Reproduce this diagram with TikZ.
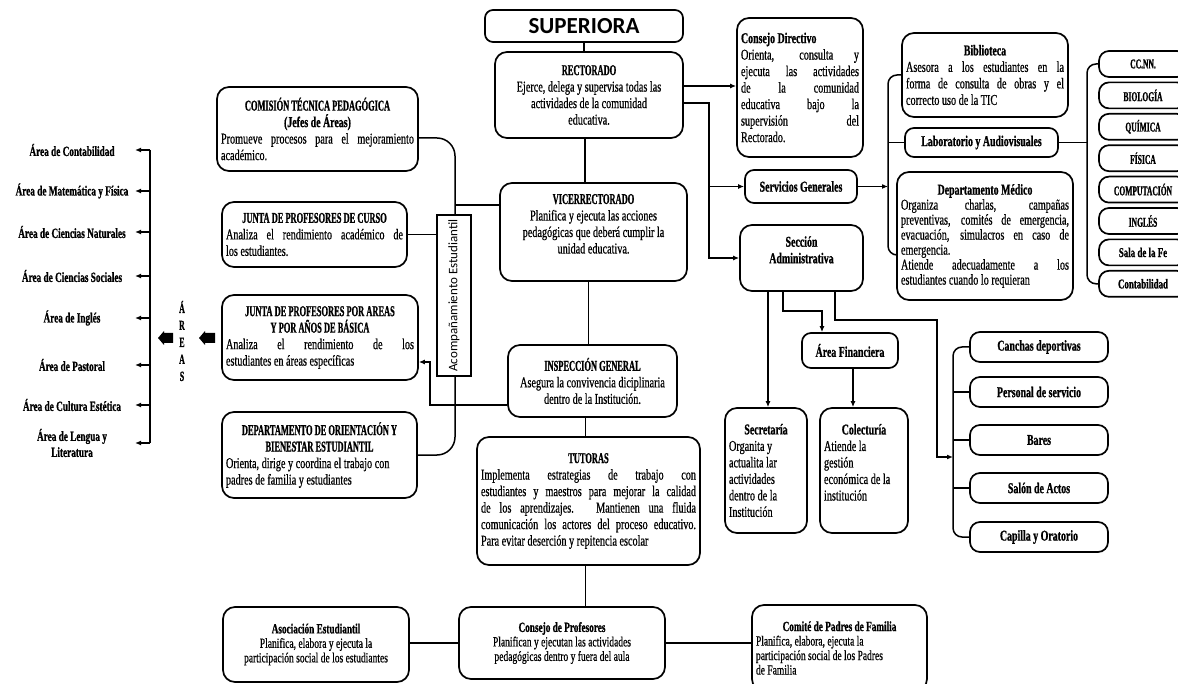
\documentclass[tikz,border=0pt]{standalone}
\usepackage{fontspec}
\setmainfont[FakeStretch=0.68,FakeBold=0.6]{Liberation Serif}
\newfontfamily\capsf[FakeStretch=0.56,FakeBold=0.9]{Liberation Serif}
\newfontfamily\midf[FakeStretch=0.66,FakeBold=0.9]{Liberation Serif}
\newfontfamily\sansf{Carlito}
\usetikzlibrary{arrows.meta}
\newcommand\Bx[2]{\vbox{\hsize=#1\relax #2}}
\newcommand\Lc[1]{\hbox to\hsize{\hss#1\hss}}
\newcommand\Lj[1]{\hbox to\hsize{#1}}
\newcommand\Ll[1]{\hbox to\hsize{#1\hss}}
\newcommand\Tc[1]{\Lc{\capsf\bfseries #1}}
\newcommand\Tm[1]{\Lc{\midf\bfseries #1}}
\tikzset{
 box/.style={draw, line width=1.7pt, rounded corners=12pt, fill=white, inner sep=4pt, font=\fontsize{15}{16.5}\selectfont},
 small/.style={font=\fontsize{14}{14.5}\selectfont},
 medf/.style={font=\fontsize{15}{15}\selectfont},
 conn/.style={line width=1.5pt},
 arr/.style={conn, -{Latex[length=6pt,width=5pt]}},
 area/.style={font=\midf\bfseries\fontsize{14}{16}\selectfont, align=center, inner sep=1pt},
 listbox/.style={box, inner sep=2pt, rounded corners=10pt, font=\fontsize{13.5}{14}\selectfont},
 rlist/.style={box, inner sep=2pt, rounded corners=10pt, font=\fontsize{15}{15}\selectfont},
}
\begin{document}
\begin{tikzpicture}[x=1pt,y=-1pt]
\useasboundingbox (0,0) rectangle (1178,684);
% ---------- centre column
\node[box, rounded corners=8pt, inner sep=0pt, minimum height=32pt] (sup) at (584,26)
  {\Bx{198pt}{\Lc{\sansf\bfseries\fontsize{23}{24}\selectfont SUPERIORA}}};
\node[box, minimum height=86pt] (rect) at (589,95)
  {\Bx{180pt}{\Tc{RECTORADO}\Lc{Ejerce, delega y supervisa todas las}\Lc{actividades de la comunidad}\Lc{educativa.}}};
\node[box, minimum height=98pt] (vice) at (593.5,232)
  {\Bx{179pt}{\Tc{VICERRECTORADO}\Lc{Planifica y ejecuta las acciones}\Lc{pedagógicas que deberá cumplir la}\Lc{unidad educativa.}\Ll{}}};
\node[box, minimum height=72pt] (insp) at (592.5,381)
  {\Bx{161pt}{\Tc{INSPECCIÓN GENERAL}\Lc{Asegura la convivencia diciplinaria}\Lc{dentro de la Institución.}}};
\node[box, minimum height=128pt] (tut) at (588.5,501)
  {\Bx{215pt}{\Tc{TUTORAS}\Lj{Implementa estrategias de trabajo con}\Lj{estudiantes y maestros para mejorar la calidad}\Lj{de los aprendizajes. Mantienen una fluida}\Lj{comunicación los actores del proceso educativo.}\Ll{Para evitar deserción y repitencia escolar}}};
% ---------- left column
\node[box, minimum height=84pt] (com) at (317.5,129)
  {\Bx{193pt}{\Tc{COMISIÓN TÉCNICA PEDAGÓGICA}\Tm{(Jefes de Áreas)}\Lj{Promueve procesos para el mejoramiento}\Ll{académico.}}};
\node[box, minimum height=65pt] (jcur) at (314.5,234.5)
  {\Bx{177pt}{\Tc{JUNTA DE PROFESORES DE CURSO}\Lj{Analiza el rendimiento académico de}\Ll{los estudiantes.}}};
\node[box, minimum height=85pt] (jare) at (320,337.5)
  {\Bx{188pt}{\Tc{JUNTA DE PROFESORES POR AREAS}\Tc{Y POR AÑOS DE BÁSICA}\Lj{Analiza el rendimiento de los}\Ll{estudiantes en áreas específicas}}};
\node[box, minimum height=86pt] (dep) at (319.5,455)
  {\Bx{187pt}{\Tc{DEPARTAMENTO DE ORIENTACIÓN Y}\Tc{BIENESTAR ESTUDIANTIL}\Ll{Orienta, dirige y coordina el trabajo con}\Ll{padres de familia y estudiantes}}};
% ---------- right of centre
\node[box, minimum height=139pt] (cdir) at (800,87.5)
  {\Bx{118pt}{\Ll{\midf\bfseries Consejo Directivo}\Lj{Orienta, consulta y}\Lj{ejecuta las actividades}\Lj{de la comunidad}\Lj{educativa bajo la}\Lj{supervisión del}\Ll{Rectorado.}}};
\node[box, rounded corners=9pt, minimum height=33pt] (serv) at (801,186.5)
  {\Bx{104pt}{\Tm{Servicios Generales}}};
\node[box, minimum height=66pt] (secc) at (801.5,258)
  {\Bx{115pt}{\Tm{Sección}\Tm{Administrativa}\Ll{}}};
\node[box, rounded corners=9pt, minimum height=35pt] (afin) at (850,350.5)
  {\Bx{88pt}{\Tm{Área Financiera}}};
\node[box, minimum height=125pt] (secr) at (766,470.5)
  {\Bx{74pt}{\Tm{Secretaría}\Ll{Organita y}\Ll{actualita lar}\Ll{actividades}\Ll{dentro de la}\Ll{Institución}}};
\node[box, minimum height=125pt] (cole) at (864,470.5)
  {\Bx{80pt}{\Tm{Colecturía}\Ll{Atiende la}\Ll{gestión}\Ll{económica de la}\Ll{institución}\Ll{}}};
\node[box, minimum height=84pt] (bib) at (985,75)
  {\Bx{158pt}{\Tm{Biblioteca}\Lj{Asesora a los estudiantes en la}\Lj{forma de consulta de obras y el}\Ll{correcto uso de la TIC}}};
\node[box, rounded corners=9pt, minimum height=29pt] (lab) at (981.5,142.5)
  {\Bx{145pt}{\Tm{Laboratorio y Audiovisuales}}};
\node[box, medf, minimum height=128pt] (med) at (985,236)
  {\Bx{168pt}{\Tm{Departamento Médico}\Lj{Organiza charlas, campañas}\Lj{preventivas, comités de emergencia,}\Lj{evacuación, simulacros en caso de}\Ll{emergencia.}\Lj{Atiende adecuadamente a los}\Ll{estudiantes cuando lo requieran}}};
% ---------- far right list
\node[listbox, minimum height=26pt] (r1) at (1143,64)    {\Bx{84pt}{\Tc{CC.NN.}}};
\node[listbox, minimum height=26pt] (r2) at (1143,95.4)  {\Bx{84pt}{\Tc{BIOLOGÍA}}};
\node[listbox, minimum height=26pt] (r3) at (1143,126.8) {\Bx{84pt}{\Tc{QUÍMICA}}};
\node[listbox, minimum height=26pt] (r4) at (1143,158.2) {\Bx{84pt}{\Tc{FÍSICA}}};
\node[listbox, minimum height=26pt] (r5) at (1143,189.6) {\Bx{84pt}{\Tc{COMPUTACIÓN}}};
\node[listbox, minimum height=26pt] (r6) at (1143,221)   {\Bx{84pt}{\Tc{INGLÉS}}};
\node[listbox, minimum height=26pt] (r7) at (1143,252.4) {\Bx{84pt}{\Tm{Sala de la Fe}}};
\node[listbox, minimum height=26pt] (r8) at (1143,283.8) {\Bx{84pt}{\Tm{Contabilidad}}};
% ---------- lower right list
\node[rlist, minimum height=30pt] (rb1) at (1039,347) {\Bx{134pt}{\Tm{Canchas deportivas}}};
\node[rlist, minimum height=30pt] (rb2) at (1039,392) {\Bx{134pt}{\Tm{Personal de servicio}}};
\node[rlist, minimum height=30pt] (rb3) at (1039,440) {\Bx{134pt}{\Tm{Bares}}};
\node[rlist, minimum height=30pt] (rb4) at (1039,488) {\Bx{134pt}{\Tm{Salón de Actos}}};
\node[rlist, minimum height=30pt] (rb5) at (1039,537) {\Bx{134pt}{\Tm{Capilla y Oratorio}}};
% ---------- bottom row
\node[box, small, minimum height=75pt] (asoc) at (316,644.5)
  {\Bx{178pt}{\Tm{Asociación Estudiantil}\Lc{Planifica, elabora y ejecuta la}\Lc{participación social de los estudiantes}}};
\node[box, small, minimum height=72pt] (cprof) at (562,643)
  {\Bx{198pt}{\Tm{Consejo de Profesores}\Lc{Planifican y ejecutan las actividades}\Lc{pedagógicas dentro y fuera del aula}}};
\node[box, small, minimum height=86pt] (cpad) at (839.5,648)
  {\Bx{167pt}{\Tm{Comité de Padres de Familia}\Ll{Planifica, elabora, ejecuta la}\Ll{participación social de los Padres}\Ll{de Familia}}};
% ---------- areas
\node[area] (a1) at (72,150) {Área de Contabilidad};
\node[area] (a2) at (72,191) {Área de Matemática y Física};
\node[area] (a3) at (72,232) {Área de Ciencias Naturales};
\node[area] (a4) at (72,276) {Área de Ciencias Sociales};
\node[area] (a5) at (72,318) {Área de Inglés};
\node[area] (a6) at (72,365) {Área de Pastoral};
\node[area] (a7) at (72,405) {Área de Cultura Estética};
\node[area] (a8) at (72,443) {Área de Lengua y\\Literatura};
\coordinate (sp) at (150,0);
\coordinate (tp) at (135,0);
\draw[conn] (sp |- a1) -- (sp |- a8);
\foreach \i in {1,...,8} \draw[arr] (sp |- a\i) -- (tp |- a\i);
\fill (173,333) -- (164,333) -- (164,331) -- (158,338) -- (164,345) -- (164,343) -- (173,343) -- cycle;
\fill (215,333) -- (205,333) -- (205,331) -- (199,338) -- (205,345) -- (205,343) -- (215,343) -- cycle;
\node[font=\capsf\bfseries\fontsize{14}{17}\selectfont, align=center, inner sep=0pt] (areas) at (182,341) {Á\\R\\E\\A\\S};
% ---------- connectors centre
\draw[conn] (sup.south) -- (sup.south |- rect.north);
\draw[conn] ([xshift=-4pt]rect.south) -- ([xshift=-4pt]rect.south |- vice.north);
\draw[conn] ([xshift=-5pt]vice.south) -- ([xshift=-5pt]vice.south |- insp.north);
\draw[conn] ([xshift=-7pt]insp.south) -- ([xshift=-7pt]insp.south |- tut.north);
\draw[conn] ([xshift=-3pt]tut.south) -- ([xshift=-3pt]tut.south |- cprof.north);
\draw[conn] (asoc.east |- cprof.west) -- (cprof.west);
\draw[conn] (cprof.east) -- (cprof.east -| cpad.west);
% ---------- left bracket
\draw[conn, rounded corners=18pt] ([yshift=-9pt]com.east) -- (455,138) -- (455,455) -- (dep.east);
\draw[conn] (455,205) -- ([yshift=27pt]vice.west);
\node[draw, line width=1.5pt, fill=white, rotate=90, minimum width=161pt, minimum height=34pt, inner sep=0pt,
  font=\sansf\fontsize{13}{14}\selectfont] (acomp) at (454,295.5) {Acompañamiento Estudiantil};
\draw[conn] (jcur.east) -- (jcur.east -| acomp.north);
\draw[arr] ([yshift=-24pt]insp.west) -| (430,362) -- ([yshift=-24.5pt]jare.east);
% ---------- right connectors
\coordinate (busx) at (709,0);
\draw[arr] ([yshift=9pt]rect.east) -- ([yshift=9pt]rect.east -| cdir.west);
\draw[arr] ([yshift=-8pt]rect.east) -| (busx |- secc.west) -- (secc.west);
\draw[arr] (busx |- serv.west) -- (serv.west);
\draw[arr] (serv.east) -- (888,186.5);
\draw[conn, rounded corners=9pt] (bib.west) -| (888,255) -- (med.west |- 888,255);
\draw[conn] (888,142.5) -- (lab.west);
\draw[conn] (lab.east) -- (1087,142.5);
\draw[conn, rounded corners=9pt] (r1.west) -| (1087,283.8) -- (r8.west);
\coordinate (rbx) at (953,0);
\draw[conn, rounded corners=9pt] (rb1.west) -| (rbx |- rb5.west) -- (rb5.west);
\foreach \i in {2,3,4} \draw[conn] (rbx |- rb\i.west) -- (rb\i.west);
\draw[arr] ([xshift=-33.5pt]secc.south) -- ([xshift=-33.5pt]secc.south |- secr.north);
\draw[arr] ([xshift=-18.5pt]secc.south) -- ++(0,19) -| ([xshift=-28pt]afin.north);
\draw[arr] ([xshift=33.5pt]secc.south) |- (937,320) -- (937,457) -- (953,457);
\draw[arr] ([xshift=3pt]afin.south) -- ([xshift=3pt]afin.south |- cole.north);
\end{tikzpicture}
\end{document}
